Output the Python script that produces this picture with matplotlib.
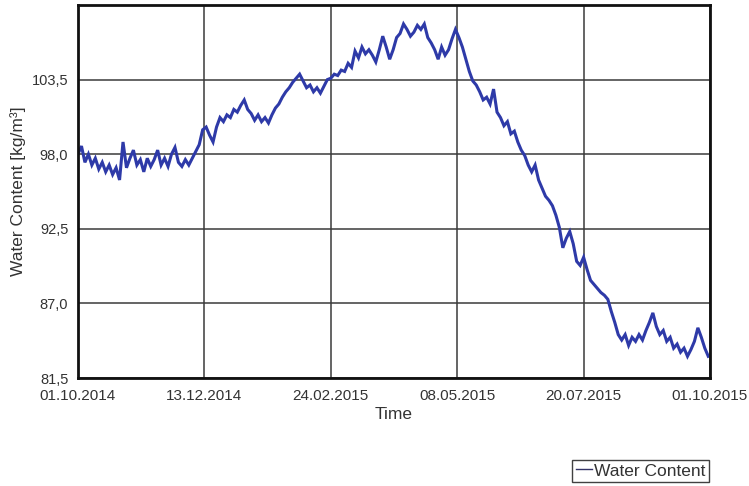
import numpy as np
import matplotlib
matplotlib.use("Agg")
import matplotlib.pyplot as plt
from matplotlib.lines import Line2D
from matplotlib.ticker import FuncFormatter

plt.rcParams['font.family'] = ['Liberation Sans', 'DejaVu Sans']

# day offsets from 01.10.2014 (every 2 days)
day_offsets = np.arange(0, 366, 2)

water_content = [
    98.0, 98.6, 97.4, 98.0, 97.2, 97.7, 96.9, 97.4, 96.7, 97.2,
    96.5, 97.0, 96.1, 98.9, 97.0, 97.7, 98.3, 97.2, 97.6, 96.7,
    97.7, 97.1, 97.6, 98.3, 97.2, 97.7, 97.1, 98.0, 98.5, 97.4,
    97.1, 97.6, 97.2, 97.7, 98.2, 98.7, 99.8, 100.0, 99.4, 98.9,
    100.0, 100.7, 100.4, 100.9, 100.7, 101.3, 101.1, 101.6, 102.0, 101.3,
    101.0, 100.5, 100.9, 100.4, 100.7, 100.3, 100.9, 101.4, 101.7, 102.2,
    102.6, 102.9, 103.3, 103.6, 103.9, 103.4, 102.9, 103.1, 102.6, 102.9,
    102.5, 103.0, 103.5, 103.6, 103.9, 103.8, 104.2, 104.1, 104.7, 104.4,
    105.6, 105.1, 105.9, 105.4, 105.7, 105.3, 104.8, 105.7, 106.7, 105.9,
    105.0, 105.7, 106.6, 106.9, 107.6, 107.2, 106.7, 107.0, 107.5, 107.2,
    107.6, 106.6, 106.2, 105.7, 105.0, 105.9, 105.3, 105.7, 106.5, 107.2,
    106.6, 105.9, 105.0, 104.1, 103.4, 103.1, 102.6, 102.0, 102.2, 101.7,
    102.8, 101.1, 100.7, 100.1, 100.4, 99.5, 99.7, 98.9, 98.3, 97.9,
    97.2, 96.7, 97.2, 96.1, 95.5, 94.9, 94.6, 94.2, 93.5, 92.6,
    91.1, 91.8, 92.3, 91.4, 90.1, 89.8, 90.4, 89.5, 88.7, 88.4,
    88.1, 87.8, 87.6, 87.3, 86.4, 85.6, 84.7, 84.3, 84.7, 83.9,
    84.5, 84.2, 84.7, 84.3, 85.0, 85.6, 86.3, 85.3, 84.7, 85.0,
    84.2, 84.5, 83.7, 84.0, 83.4, 83.7, 83.1, 83.6, 84.2, 85.2,
    84.5, 83.7, 83.1,
]

x_tick_labels = ['01.10.2014', '13.12.2014', '24.02.2015', '08.05.2015', '20.07.2015', '01.10.2015']
y_ticks = [81.5, 87.0, 92.5, 98.0, 103.5]

start = np.datetime64('2014-10-01')
dates = start + day_offsets.astype('timedelta64[D]')
x_ticks = [np.datetime64('-'.join(reversed(s.split('.')))) for s in x_tick_labels]

fig = plt.figure(figsize=(7.49, 4.86), dpi=100)
ax = fig.add_axes([78/749, 1-378/486, (710-78)/749, (378-5)/486])

line_color = '#2e3aa8'
ax.plot(dates, water_content, color=line_color, lw=2.2, solid_joinstyle='miter')

ax.set_xlim(x_ticks[0], x_ticks[-1])
ax.set_ylim(81.5, 109.0)
ax.set_xticks(x_ticks)
ax.set_xticklabels(x_tick_labels)
ax.set_yticks(y_ticks)
ax.yaxis.set_major_formatter(FuncFormatter(lambda v, p: f"{v:.1f}".replace('.', ',')))

ax.grid(True, color='#3a3a3a', lw=1.1)
ax.set_axisbelow(True)
for s in ax.spines.values():
    s.set_color('#111111')
    s.set_linewidth(2.0)
ax.tick_params(axis='x', length=0, labelsize=11, colors='#333333', pad=8)
ax.tick_params(axis='y', length=0, labelsize=10.5, colors='#333333', pad=7)

ax.set_xlabel('Time', fontsize=12.5, color='#333333', labelpad=3)
ax.set_ylabel('Water Content [kg/m³]', fontsize=12.5, color='#333333')
ax.yaxis.set_label_coords(-0.083, 0.5)

handle = Line2D([], [], color='#333366', lw=1.0)
leg = fig.legend([handle], ['Water Content'], loc='lower right',
                 bbox_to_anchor=(709/749, 4/486), frameon=True, fancybox=False,
                 edgecolor='#111111', fontsize=12.5, handlelength=0.9,
                 handletextpad=0.15, borderpad=0.2, borderaxespad=0)
leg.get_frame().set_linewidth(1.0)
for t in leg.get_texts():
    t.set_color('#333333')

fig.savefig('out.png', dpi=100)
